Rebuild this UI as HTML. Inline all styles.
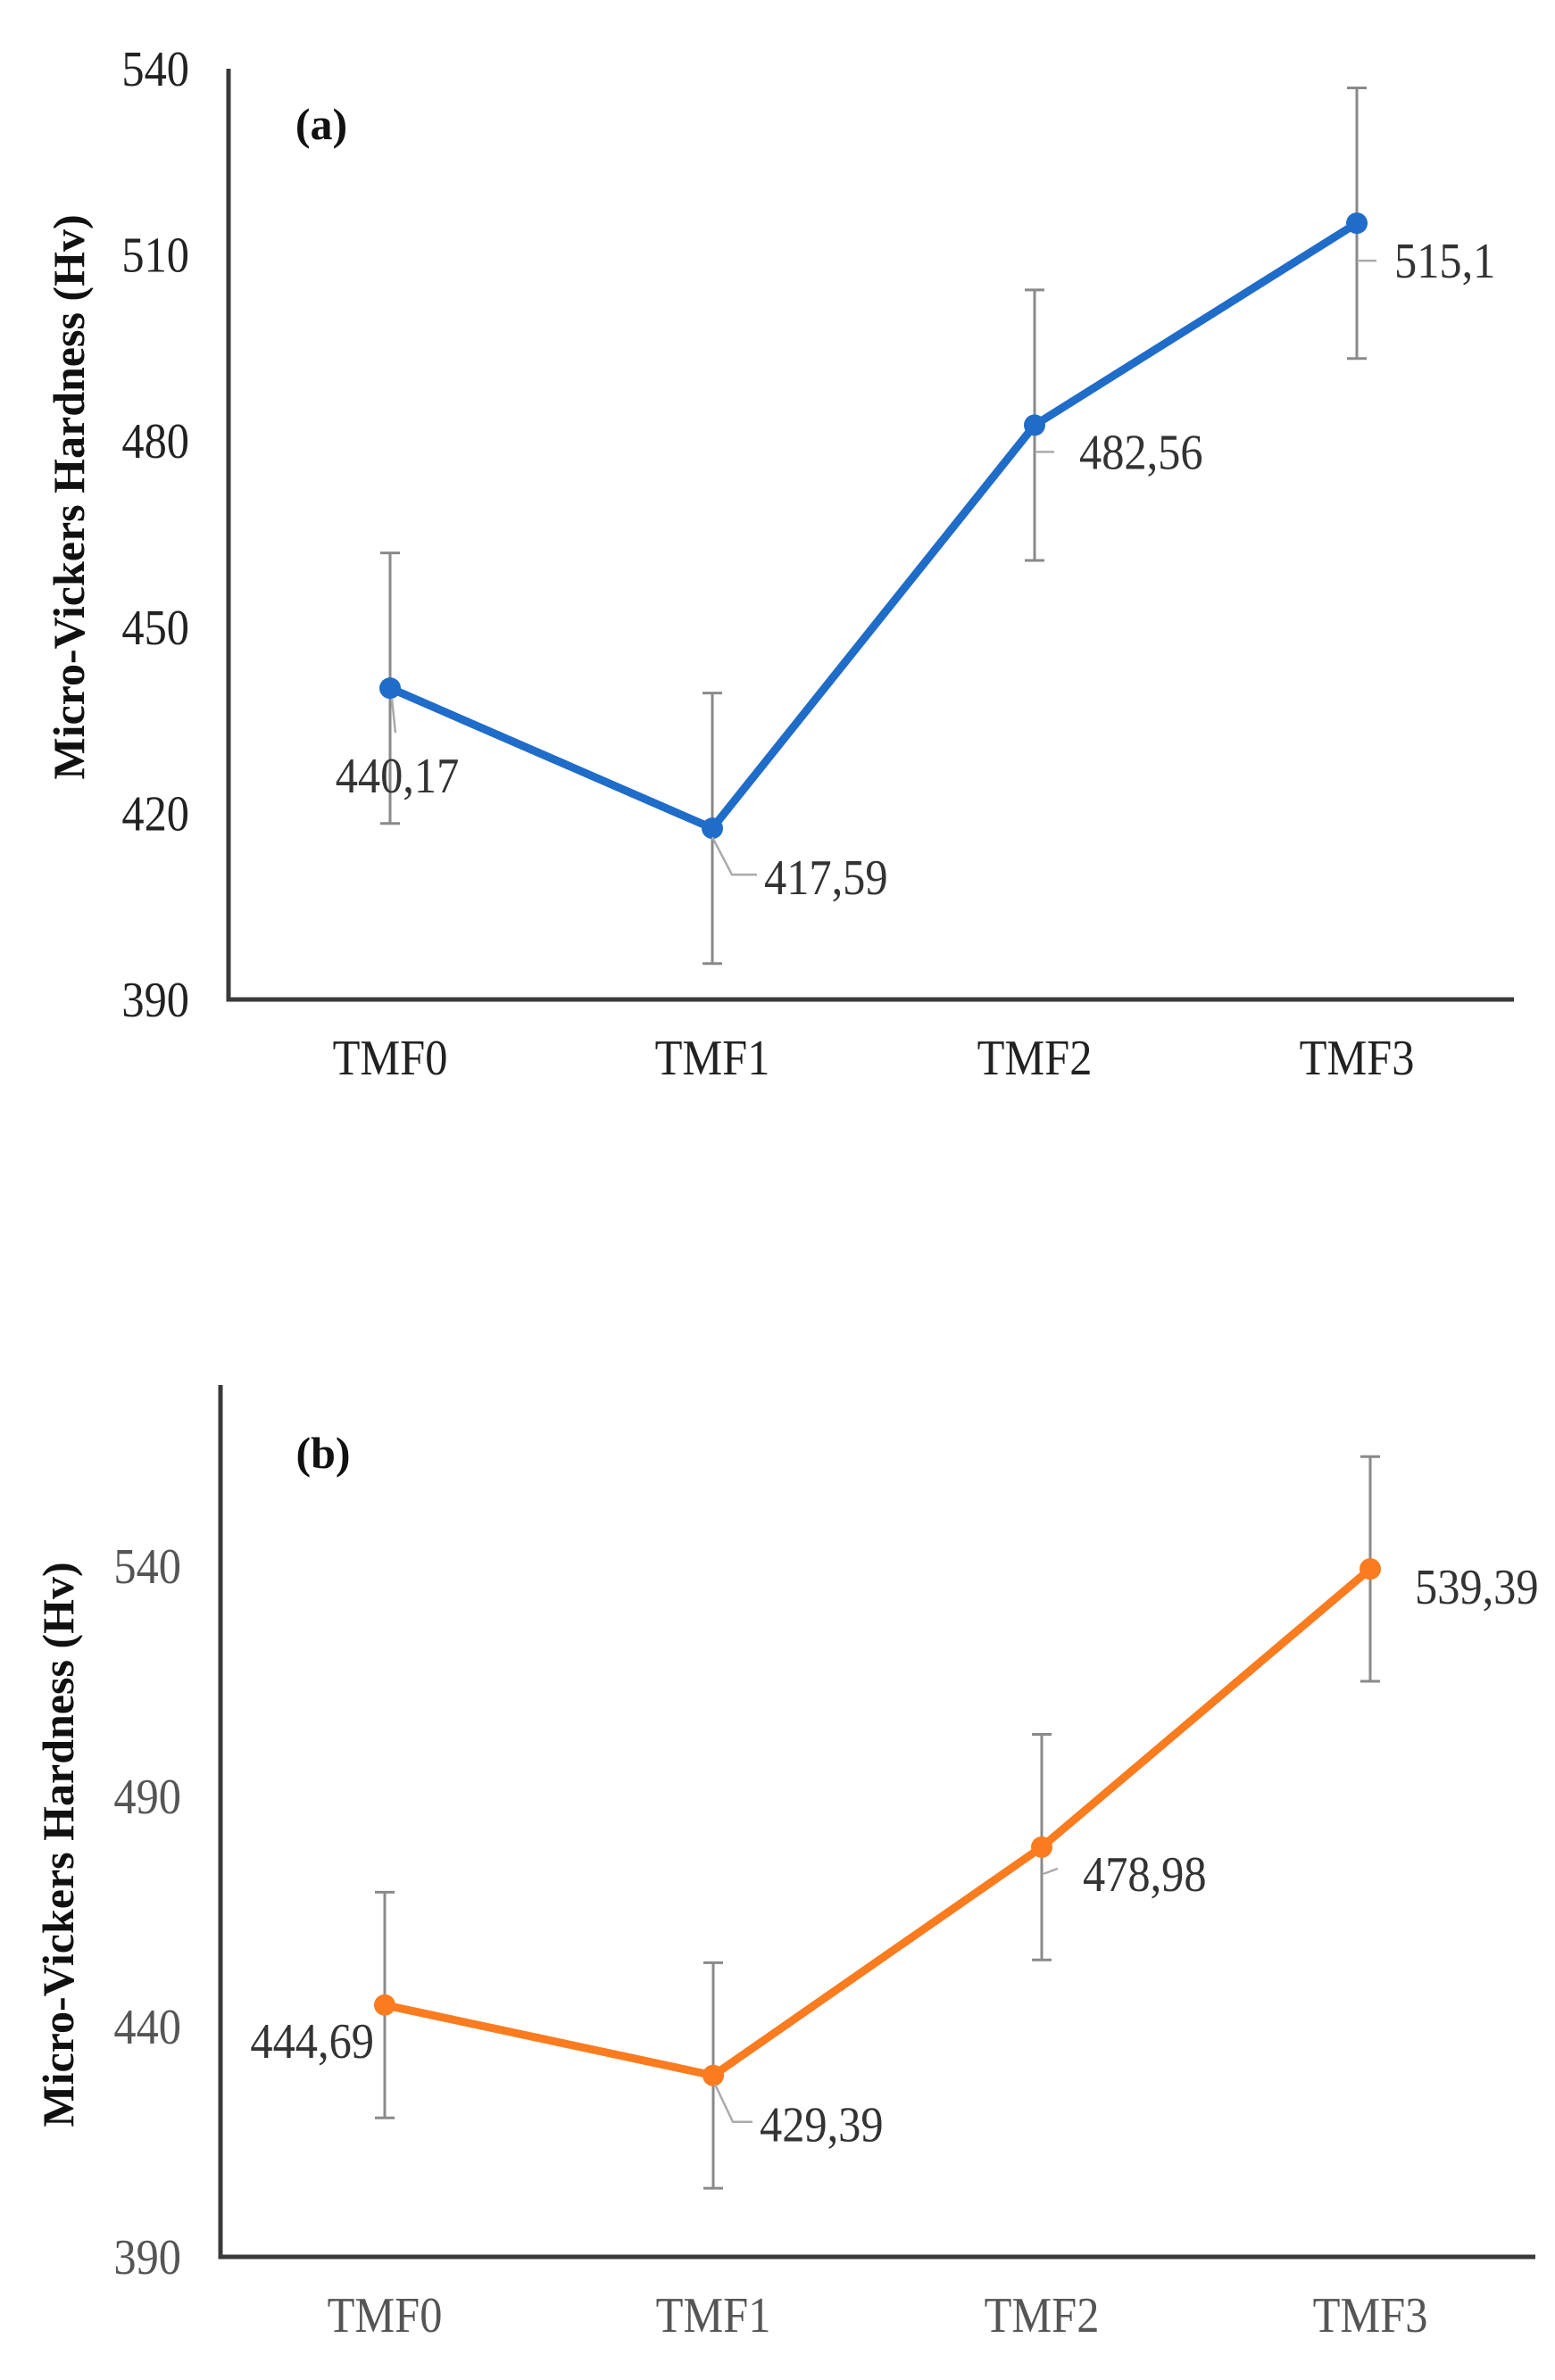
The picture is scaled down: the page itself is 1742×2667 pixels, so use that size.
<!DOCTYPE html>
<html><head><meta charset="utf-8"><style>
html,body{margin:0;padding:0;background:#fff;}
svg{display:block;}
</style></head><body>
<svg id="fig" width="1742" height="2667" viewBox="0 0 1742 2667" xmlns="http://www.w3.org/2000/svg"></svg>
<script>
const categories = ["TMF0","TMF1","TMF2","TMF3"];
const valuesA = [440.17, 417.59, 482.56, 515.1];
const errorsA = [21.8, 21.8, 21.8, 21.8];
const labelsA = ["440,17","417,59","482,56","515,1"];
const ticksA = [390, 420, 450, 480, 510, 540];
const valuesB = [444.69, 429.39, 478.98, 539.39];
const errorsB = [24.5, 24.5, 24.5, 24.4];
const labelsB = ["444,69","429,39","478,98","539,39"];
const ticksB = [390, 440, 490, 540];

const NS = "http://www.w3.org/2000/svg";
const svg = document.getElementById("fig");
function el(tag, attrs, parent){
  const e = document.createElementNS(NS, tag);
  for (const k in attrs) e.setAttribute(k, attrs[k]);
  (parent || svg).appendChild(e);
  return e;
}
function txt(str, x, y, anchor, fill, size, weight, parent, sx){
  const g = el("g", {transform: "translate(" + x + "," + y + ") scale(" + (sx || 0.9) + ",1)"}, parent);
  const t = el("text", {x: 0, y: 0, "text-anchor": anchor, fill: fill, "font-size": size,
    "font-weight": weight || "normal", "font-family": "'Liberation Serif', serif"}, g);
  t.textContent = str;
  return t;
}

function drawChart(cfg){
  const g = el("g", {});
  
  
  const y = v => cfg.y0 - (v - cfg.vmin) / (cfg.vmax - cfg.vmin) * (cfg.y0 - cfg.y1);
  const x = i => cfg.x0 + i * cfg.step;
  const ax = el("path", {d: "M" + cfg.ax + " " + cfg.axTop + " L" + cfg.ax + " " + cfg.y0 + " L" + cfg.axRight + " " + cfg.y0,
    fill: "none", stroke: "#3a3a3a", "stroke-width": 5}, g);
  
  
  cfg.ticks.forEach(v => {
    const t = txt(String(v), cfg.ax - 44, y(v) + 19, "end", cfg.tickColor, 56, "normal", g);
    
    
  });
  categories.forEach((c, i) => {
    const t = txt(c, x(i), cfg.y0 + 84, "middle", cfg.tickColor, 56, "normal", g);
    
    
  });
  const yt = el("text", {x: 0, y: 0, "text-anchor": "middle", fill: "#111", "font-size": 50, "font-weight": "bold",
    "font-family": "'Liberation Serif', serif", transform: "translate(" + cfg.titleX + "," + cfg.titleY + ") rotate(-90)"}, g);
  yt.textContent = "Micro-Vickers Hardness (Hv)";
  
  
  const pl = txt(cfg.panel, cfg.panelX, cfg.panelY, "middle", "#111", 50, "bold", g, 1);
  
  
  cfg.values.forEach((v, i) => {
    const eb = el("path", {d: "M" + x(i) + " " + y(v + cfg.errors[i]) + " V" + y(v - cfg.errors[i]) +
      " M" + (x(i) - 11) + " " + y(v + cfg.errors[i]) + " h22 M" + (x(i) - 11) + " " + y(v - cfg.errors[i]) + " h22",
      stroke: "#8a8a8a", "stroke-width": 3, fill: "none"}, g);
    
    
  });
  const pts = cfg.values.map((v, i) => x(i) + "," + y(v)).join(" ");
  const ln = el("polyline", {points: pts, fill: "none", stroke: cfg.color, "stroke-width": 9, "stroke-linejoin": "round"}, g);
  
  
  cfg.values.forEach((v, i) => {
    const c = el("circle", {cx: x(i), cy: y(v), r: 12, fill: cfg.color}, g);
    
    
  });
  cfg.values.forEach((v, i) => {
    const o = cfg.labelOff[i];
    const lx = x(i) + o[0], ly = y(v) + o[1];
    const t = txt(cfg.labels[i], lx, ly + 19, o[2], "#333", 56, "normal", g);
    
    
    if (o[3]) {
      const ld = el("path", {d: o[3](x(i), y(v), lx, ly), stroke: "#aaa", "stroke-width": 2.5, fill: "none"}, g);
      
      
    }
  });
}

drawChart({name: "chart-a", values: valuesA, errors: errorsA, labels: labelsA, ticks: ticksA,
  vmin: 390, vmax: 540, y0: 1120, y1: 77, axTop: 77, ax: 256, axRight: 1696, x0: 437, step: 361,
  color: "#1f6cc9", tickColor: "#222", titleX: 94, titleY: 557, panel: "(a)", panelX: 360, panelY: 156,
  labelOff: [[8, 98, "middle", (px,py,lx,ly)=>"M"+(px+2)+" "+(py+12)+" L"+(px+6)+" "+(py+50)],
             [58, 55, "start", (px,py,lx,ly)=>"M"+px+" "+(py+10)+" L"+(px+22)+" "+(py+52)+" H"+(px+50)],
             [50, 30, "start", (px,py,lx,ly)=>"M"+(px+2)+" "+(py+30)+" H"+(px+22)],
             [42, 42, "start", (px,py,lx,ly)=>"M"+(px+2)+" "+(py+42)+" H"+(px+22)]]});

drawChart({name: "chart-b", values: valuesB, errors: errorsB, labels: labelsB, ticks: ticksB,
  vmin: 390, vmax: 540, y0: 2529, y1: 1755, axTop: 1552, ax: 247, axRight: 1720, x0: 431, step: 368,
  color: "#fb7b1f", tickColor: "#555", titleX: 82, titleY: 2067, panel: "(b)", panelX: 362, panelY: 1645,
  labelOff: [[-12, 40, "end", null],
             [52, 55, "start", (px,py,lx,ly)=>"M"+(px+2)+" "+(py+10)+" L"+(px+22)+" "+(py+52)+" H"+(px+44)],
             [46, 30, "start", (px,py,lx,ly)=>"M"+(px+2)+" "+(py+30)+" L"+(px+18)+" "+(py+24)],
             [50, 20, "start", null]]});
</script>
</body></html>
